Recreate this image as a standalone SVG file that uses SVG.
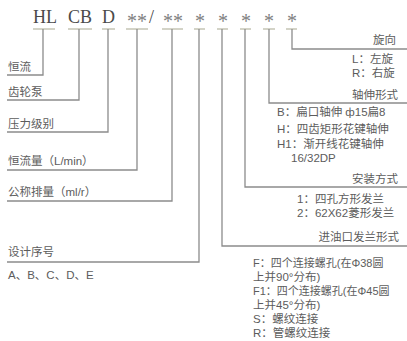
<svg xmlns="http://www.w3.org/2000/svg" width="407" height="341" viewBox="0 0 407 341">
<style>
.code{font-family:"Liberation Serif","Times New Roman",serif;font-size:18px;fill:#4a4a4a}
.star{font-family:"Liberation Serif","Times New Roman",serif;font-size:20px;fill:#808080}
.lbl{font-family:"Liberation Sans","Noto Sans CJK SC",sans-serif;font-size:11.5px;fill:#5c5c5c}
.rl{font-family:"Liberation Sans","Noto Sans CJK SC",sans-serif;font-size:11.5px;fill:#5c5c5c}
.sm{font-size:11px}
.ul{stroke:#a8a890;stroke-width:1.2;fill:none}
.ln{stroke:#8c8c8c;stroke-width:1.3;fill:none}
</style>
<rect width="407" height="341" fill="#ffffff"/>
<g id="code">
<text class="code" x="33" y="23">HL</text>
<text class="code" x="68" y="23">CB</text>
<text class="code" x="102" y="23">D</text>
<text class="star" x="127" y="28">**</text>
<text class="code" x="149" y="23">/</text>
<text class="star" x="163" y="28">**</text>
<text class="star" x="195" y="28">*</text>
<text class="star" x="218" y="28">*</text>
<text class="star" x="241" y="28">*</text>
<text class="star" x="264" y="28">*</text>
<text class="star" x="287" y="28">*</text>
</g>
<g id="connectors">
<path class="ul" d="M33 29H55M68 29H92M102 29H115M126 29H148M162 29H183M194 29H205M217 29H228M240 29H251M263 29H275M286 29H297"/>
<path class="ln" d="M43 29V75H7"/>
<path class="ln" d="M79 29V100H7"/>
<path class="ln" d="M108 29V132H7"/>
<path class="ln" d="M137 29V170H7"/>
<path class="ln" d="M172 29V201H7"/>
<path class="ln" d="M199 29V262H7"/>
<path class="ln" d="M222 29V246H407"/>
<path class="ln" d="M245 29V187H407"/>
<path class="ln" d="M269 29V103H407"/>
<path class="ln" d="M292 29V49H407"/>
</g>
<g id="n-hengliu"><text class="lbl" x="8" y="71">恒流</text></g>
<g id="n-chilunbeng"><text class="lbl" x="8" y="96">齿轮泵</text></g>
<g id="n-yali"><text class="lbl" x="8" y="128">压力级别</text></g>
<g id="n-hengliuliang"><text class="lbl" x="8" y="165">恒流量（L/min）</text></g>
<g id="n-paoliang"><text class="lbl" x="8" y="196">公称排量（ml/r）</text></g>
<g id="n-sheji"><text class="lbl" x="8" y="256">设计序号</text><text class="lbl" x="8" y="279">A、B、C、D、E</text></g>
<g id="n-xuanxiang">
<text class="rl" x="396" y="44" text-anchor="end">旋向</text>
<text class="rl" x="352" y="63">L：左旋</text>
<text class="rl" x="352" y="77">R：右旋</text>
</g>
<g id="n-zhoushen">
<text class="rl" x="398" y="99" text-anchor="end">轴伸形式</text>
<text class="rl" x="277" y="116">B：扁口轴伸 ф15扁8</text>
<text class="rl" x="277" y="133">H：四齿矩形花键轴伸</text>
<text class="rl" x="277" y="148">H1：渐开线花键轴伸</text>
<text class="rl" x="291" y="162">16/32DP</text>
</g>
<g id="n-anzhuang">
<text class="rl" x="398" y="183" text-anchor="end">安装方式</text>
<text class="rl" x="297" y="203">1：四孔方形发兰</text>
<text class="rl" x="297" y="217">2：62X62菱形发兰</text>
</g>
<g id="n-jinyoukou">
<text class="rl" x="399" y="241" text-anchor="end">进油口发兰形式</text>
<text class="rl sm" x="253" y="267">F：四个连接螺孔(在Φ38圆</text>
<text class="rl" x="253" y="281">上并90°分布)</text>
<text class="rl sm" x="253" y="295">F1：四个连接螺孔(在Φ45圆</text>
<text class="rl" x="253" y="309">上并45°分布)</text>
<text class="rl" x="253" y="323">S：螺纹连接</text>
<text class="rl" x="253" y="337">R：管螺纹连接</text>
</g>
</svg>
